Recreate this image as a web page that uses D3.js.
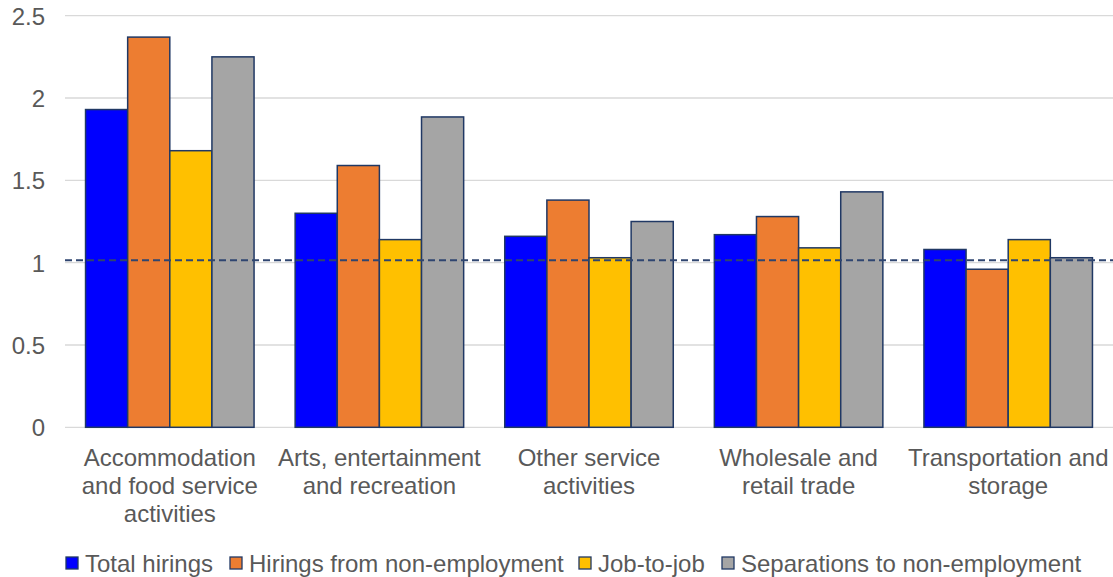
<!DOCTYPE html>
<html>
<head>
<meta charset="utf-8">
<script src="https://cdn.jsdelivr.net/npm/d3@7"></script>
<style>
  html, body { margin: 0; padding: 0; background: #fff; }
  svg { display: block; font-family: "Liberation Sans", Arial, sans-serif; }
</style>
</head>
<body>
<svg id="chart" width="1113" height="577"></svg>
<script>
// Sector categories (each label split into lines)
const categories = [
  ["Accommodation", "and food service", "activities"],
  ["Arts, entertainment", "and recreation"],
  ["Other service", "activities"],
  ["Wholesale and", "retail trade"],
  ["Transportation and", "storage"]
];
const seriesNames = ["Total hirings", "Hirings from non-employment", "Job-to-job", "Separations to non-employment"];
const seriesColors = ["#0000ff", "#ed7d31", "#ffc000", "#a5a5a5"];

const totalHirings      = [1.93, 1.30, 1.16, 1.17, 1.08];
const hiringsNonEmp     = [2.37, 1.59, 1.38, 1.28, 0.96];
const jobToJob          = [1.68, 1.14, 1.03, 1.09, 1.14];
const separationsNonEmp = [2.25, 1.885, 1.25, 1.43, 1.03];
const referenceLevel    = 1.015;
const yTicks = [0, 0.5, 1, 1.5, 2, 2.5];

const series = [totalHirings, hiringsNonEmp, jobToJob, separationsNonEmp];

const svg = d3.select("#chart");
const plotLeft = 65, plotRight = 1113, plotTop = 15.7, plotBottom = 427.3;
const fontSize = 24;
const textColor = "#595959";

const x0 = d3.scaleBand().domain(d3.range(categories.length))
  .range([plotLeft, plotRight]).paddingInner(0.196).paddingOuter(0.098);
const x1 = d3.scaleBand().domain(d3.range(series.length))
  .range([0, x0.bandwidth()]);
const y = d3.scaleLinear().domain([0, 2.5]).range([plotBottom, plotTop]);

// gridlines
svg.append("g").selectAll("line").data(yTicks).join("line")
  .attr("x1", plotLeft).attr("x2", plotRight)
  .attr("y1", d => y(d)).attr("y2", d => y(d))
  .attr("stroke", "#d9d9d9").attr("stroke-width", 1.3);

// y axis labels
const yAxis = d3.axisLeft(y).tickValues(yTicks).tickSize(0).tickPadding(0)
  .tickFormat(d => String(d));
const yg = svg.append("g").attr("transform", `translate(45,0)`).call(yAxis);
yg.select(".domain").remove();
yg.selectAll("text").attr("font-size", fontSize).attr("fill", textColor)
  .attr("font-family", "Liberation Sans, Arial, sans-serif").attr("dy", "0.35em");

// bars
const groups = svg.append("g").selectAll("g").data(categories).join("g")
  .attr("transform", (d, i) => `translate(${x0(i)},0)`);
groups.selectAll("rect")
  .data((d, i) => series.map((s, k) => ({ k, v: s[i] })))
  .join("rect")
  .attr("x", d => x1(d.k))
  .attr("width", x1.bandwidth())
  .attr("y", d => y(d.v))
  .attr("height", d => y(0) - y(d.v))
  .attr("fill", d => seriesColors[d.k])
  .attr("stroke", "#203864").attr("stroke-width", 1.5);

// reference dashed line
svg.append("line")
  .attr("x1", plotLeft).attr("x2", plotRight)
  .attr("y1", y(referenceLevel)).attr("y2", y(referenceLevel))
  .attr("stroke", "#2f4570").attr("stroke-width", 2)
  .attr("stroke-dasharray", "7,4");

// category labels
const xg = svg.append("g");
categories.forEach((lines, i) => {
  const cx = x0(i) + x0.bandwidth() / 2;
  const t = xg.append("text")
    .attr("text-anchor", "middle")
    .attr("font-size", fontSize).attr("fill", textColor);
  lines.forEach((ln, j) => {
    t.append("tspan").attr("x", cx).attr("y", 465.5 + j * 28).text(ln);
  });
});

// legend
const legendX = [66, 230, 579, 722];
const legend = svg.append("g");
seriesNames.forEach((name, k) => {
  legend.append("rect")
    .attr("x", legendX[k]).attr("y", 557).attr("width", 12).attr("height", 12)
    .attr("fill", seriesColors[k]).attr("stroke", "#203864").attr("stroke-width", 1.3);
  legend.append("text")
    .attr("x", legendX[k] + 19).attr("y", 572)
    .attr("font-size", fontSize).attr("fill", textColor).text(name);
});
</script>
</body>
</html>
